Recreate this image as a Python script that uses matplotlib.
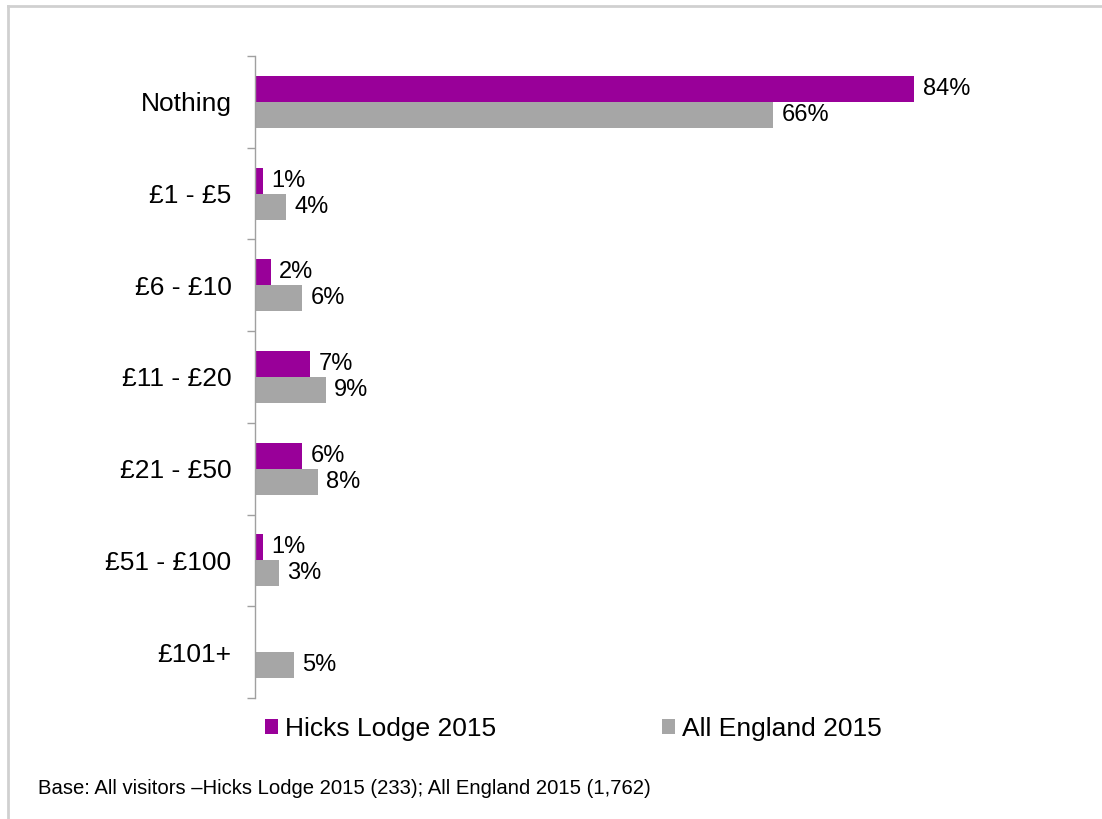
import matplotlib
matplotlib.use("Agg")
import matplotlib.pyplot as plt
from matplotlib.patches import Patch
from matplotlib.lines import Line2D
import numpy as np

plt.rcParams['font.family'] = ['Liberation Sans', 'DejaVu Sans']

categories = ["Nothing", "£1 - £5", "£6 - £10", "£11 - £20", "£21 - £50", "£51 - £100", "£101+"]
hicks_lodge = [84, 1, 2, 7, 6, 1, 0]
all_england = [66, 4, 6, 9, 8, 3, 5]
series_names = ["Hicks Lodge 2015", "All England 2015"]
footnote = "Base: All visitors \u2013Hicks Lodge 2015 (233); All England 2015 (1,762)"

purple = "#990099"
grey = "#a6a6a6"
axis_grey = "#a0a0a0"

W, H = 1102, 819
fig = plt.figure(figsize=(W / 100, H / 100), dpi=100)

# axes placed in pixel terms
left, right, top, bottom = 255, 1040, 56, 698
ax = fig.add_axes([left / W, 1 - bottom / H, (right - left) / W, (bottom - top) / H])

y = np.arange(len(categories))
bh = 0.284
ax.barh(y - bh / 2, hicks_lodge, height=bh, color=purple)
ax.barh(y + bh / 2, all_england, height=bh, color=grey)

for i, (a, b) in enumerate(zip(hicks_lodge, all_england)):
    if a > 0:
        ax.annotate(f"{a}%", (a, i - bh / 2), xytext=(6, 0), textcoords="offset points",
                    va="center", ha="left", fontsize=17)
    ax.annotate(f"{b}%", (b, i + bh / 2), xytext=(6, 0), textcoords="offset points",
                va="center", ha="left", fontsize=17)

ax.set_xlim(0, 100)
ax.set_ylim(len(categories) - 0.5, -0.5)
ax.set_yticks(y)
ax.set_yticklabels(categories, fontsize=19)
ax.set_yticks(np.arange(-0.5, len(categories), 1), minor=True)
ax.tick_params(axis="y", which="major", length=0, pad=17)
ax.tick_params(axis="y", which="minor", length=6, width=1, color=axis_grey, direction="out")
ax.set_xticks([])
for s in ["top", "right", "bottom"]:
    ax.spines[s].set_visible(False)
ax.spines["left"].set_color(axis_grey)
ax.spines["left"].set_linewidth(1)

handles = [Patch(facecolor=purple, edgecolor="none"), Patch(facecolor=grey, edgecolor="none")]
fig.legend(handles, series_names, loc="center left", bbox_to_anchor=(265 / W, 1 - 729 / H),
           ncol=2, frameon=False, fontsize=19, handlelength=0.5, handleheight=0.5,
           handletextpad=0.25, columnspacing=6.3, borderpad=0, borderaxespad=0)

fig.text(38 / W, 1 - 789 / H, footnote, fontsize=14.6, va="center", ha="left")

# outer frame lines on top and left
fig.add_artist(Line2D([8 / W, 1], [1 - 6 / H, 1 - 6 / H], transform=fig.transFigure,
                      color="#d0d0d0", lw=2))
fig.add_artist(Line2D([8 / W, 8 / W], [0, 1 - 6 / H], transform=fig.transFigure,
                      color="#d0d0d0", lw=2))

fig.savefig("out.png", dpi=100, facecolor="white")
